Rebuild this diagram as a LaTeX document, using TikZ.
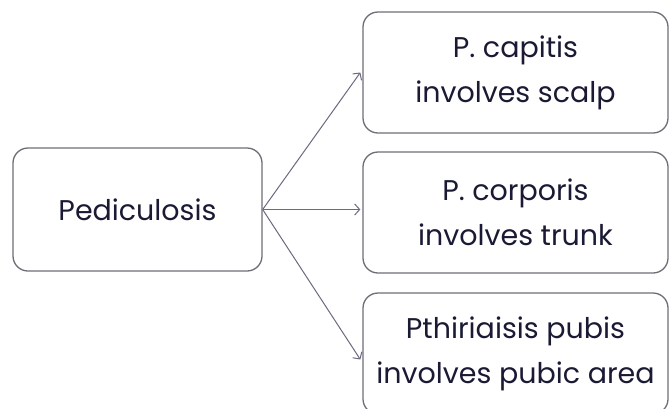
\documentclass[tikz,border=0pt]{standalone}
\usepackage{fontspec}
\setmainfont{Poppins}
\usetikzlibrary{arrows.meta}
\definecolor{edgegray}{HTML}{6E6E78}
\definecolor{linkgray}{HTML}{6A6A80}
\definecolor{inkblue}{HTML}{1A1A34}
\begin{document}
\begin{tikzpicture}[x=1pt,y=-1pt,
  card/.style={draw=edgegray, line width=1.3pt, rounded corners=15pt,
    text=inkblue, align=center, font=\fontsize{28.5}{45}\selectfont,
    inner sep=0pt},
  link/.style={draw=linkgray, line width=1pt,
    -{Straight Barb[length=5pt,width=11pt,line width=1pt]}}]
  \useasboundingbox (0,0) rectangle (669,408);
  \clip (0,0) rectangle (669,408);
  \fill[white] (0,0) rectangle (669,408);
  % source box
  \node[card, minimum width=249pt, minimum height=123pt] (src) at (137.5,209.5) {Pediculosis};
  % three targets
  \node[card, minimum width=305pt, minimum height=121pt] (cap) at (515.5,72.5) {P. capitis\\involves scalp};
  \node[card, minimum width=305pt, minimum height=121pt] (cor) at (515.5,212.5) {P. corporis\\involves trunk};
  \node[card, minimum width=305pt, minimum height=121pt] (pub) at (515.5,353.5) {Pthiriaisis pubis\\involves pubic area};
  % connectors
  \draw[link] (src.east) -- ([xshift=-2pt]cap.west);
  \draw[link] (src.east) -- ([xshift=-2pt]src.east -| cor.west);
  \draw[link] (src.east) -- ([xshift=-2pt,yshift=-6pt]pub.west);
\end{tikzpicture}
\end{document}
